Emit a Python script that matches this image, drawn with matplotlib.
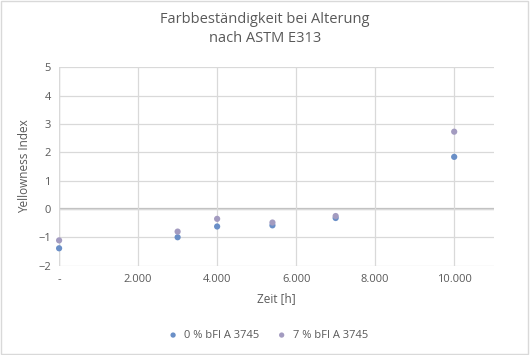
import matplotlib
matplotlib.use("Agg")
import matplotlib.pyplot as plt
from matplotlib.ticker import FixedLocator, FixedFormatter
from matplotlib.patches import Rectangle

plt.rcParams['font.family'] = ['Open Sans', 'DejaVu Sans']

hours = [0, 3000, 4000, 5400, 7000, 10000]
series_0 = [-1.39, -1.0, -0.62, -0.58, -0.32, 1.84]
series_7 = [-1.11, -0.8, -0.35, -0.48, -0.25, 2.73]
labels = ["0 % bFI A 3745", "7 % bFI A 3745"]
colors = ["#6A8FC7", "#A39BC0"]
xticks = [0, 2000, 4000, 6000, 8000, 10000]
xticklabels = ["-", "2.000", "4.000", "6.000", "8.000", "10.000"]
yticks = [-2, -1, 0, 1, 2, 3, 4, 5]

fig = plt.figure(figsize=(5.30, 3.55), dpi=100)
ax = fig.add_axes([0.1115, 0.252, 0.82, 0.558])

ax.scatter(hours, series_0, s=20, color=colors[0], label=labels[0], zorder=3,
           edgecolors='none', clip_on=False)
ax.scatter(hours, series_7, s=20, color=colors[1], label=labels[1], zorder=3,
           edgecolors='none', clip_on=False)

ax.set_xlim(0, 11000)
ax.set_ylim(-2, 5)
ax.xaxis.set_major_locator(FixedLocator(xticks))
ax.xaxis.set_major_formatter(FixedFormatter(xticklabels))
ax.yaxis.set_major_locator(FixedLocator(yticks))
ax.grid(True, color="#D9D9D9", linewidth=0.9, zorder=0)
ax.axhline(0, color="#BFBFBF", linewidth=1.6, zorder=1)
ax.axvline(0, color="#BFBFBF", linewidth=1.6, zorder=1)
for s in ax.spines.values():
    s.set_visible(False)
ax.tick_params(length=0, labelsize=8, labelcolor="#595959", pad=6)

ax.set_xlabel("Zeit [h]", fontsize=8.5, color="#595959", labelpad=5)
ax.set_ylabel("Yellowness Index", fontsize=8.5, color="#595959", labelpad=5)
fig.suptitle("Farbbeständigkeit bei Alterung\nnach ASTM E313", fontsize=10.5,
             color="#595959", y=0.965, linespacing=1.3)

leg = fig.legend(loc="center", bbox_to_anchor=(0.5, 0.055), ncol=2, frameon=False,
                 fontsize=8, handletextpad=0.0, columnspacing=1.0, markerscale=0.85)
for t in leg.get_texts():
    t.set_color("#595959")

fig.patches.append(Rectangle((0.002, 0.003), 0.995, 0.993, transform=fig.transFigure,
                             fill=False, edgecolor="#D9D9D9", linewidth=1.0))

fig.savefig("out.png", dpi=100)
